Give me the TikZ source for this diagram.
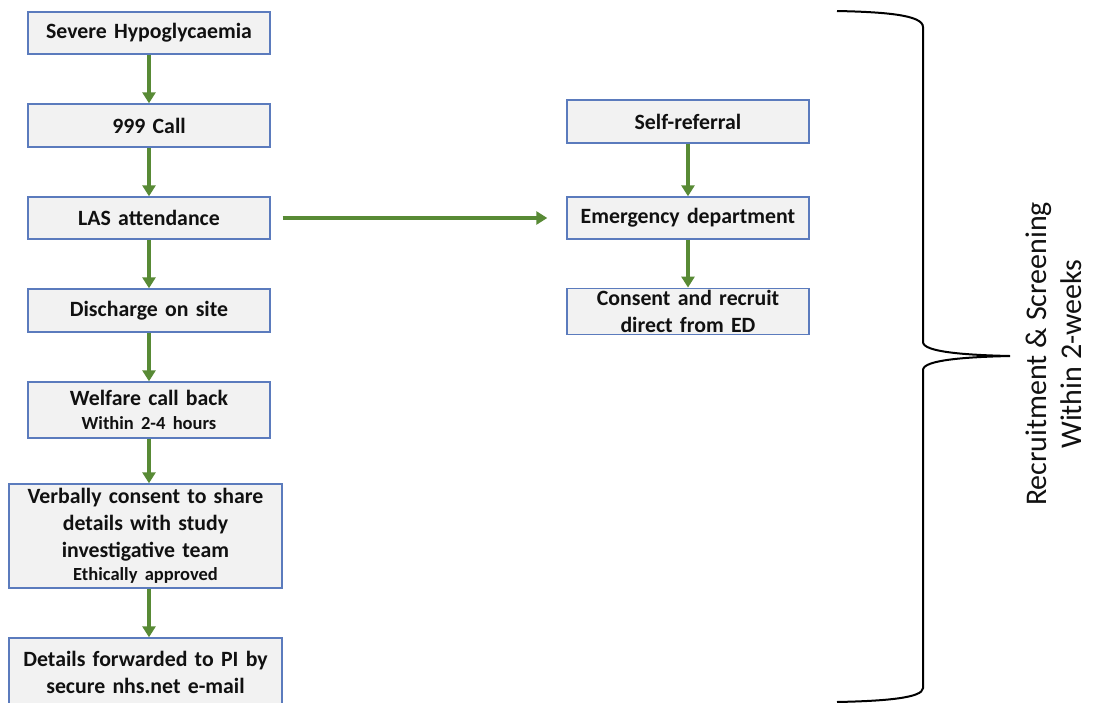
\documentclass[tikz,border=0pt]{standalone}
\usepackage{fontspec}
\setmainfont{Carlito}
\usetikzlibrary{arrows.meta}
\definecolor{boxfill}{HTML}{F2F2F2}
\definecolor{boxline}{HTML}{5B7BBD}
\definecolor{flowgreen}{HTML}{588A35}
\definecolor{inktext}{HTML}{111111}
% smaller size for the second-line notes inside boxes
\newcommand{\notesize}{\fontsize{18.5}{22}\selectfont}
\begin{document}
\begin{tikzpicture}[x=1pt,y=-1pt,
  stepbox/.style={draw=boxline, line width=1.4pt, fill=boxfill, inner sep=2pt,
    text=inktext, align=center, font=\fontsize{21.8}{27}\selectfont\bfseries},
  colbox/.style={stepbox, minimum width=242pt, text width=236pt},
  widebox/.style={stepbox, minimum width=273pt, text width=267pt},
  flow/.style={draw=flowgreen, line width=3.2pt,
    -{Triangle[width=13pt,length=11pt]}}
]
\useasboundingbox (0,0) rectangle (1101,702);

% main pathway
\node[colbox, minimum height=42pt] (hypo) at (149,33) {Severe Hypoglycaemia};
\node[colbox, minimum height=43pt] (call) at (149,125.5) {999 Call};
\node[colbox, minimum height=42pt] (las)  at (149,218) {LAS attendance};
\node[colbox, minimum height=43pt] (disc) at (149,310.5) {Discharge on site};
\node[colbox, minimum height=56pt] (welf) at (149,410)
  {Welfare call back\\[-3pt]{\notesize Within 2-4 hours}};
\node[widebox, minimum height=104pt] (verb) at (145.5,536)
  {Verbally consent to share\\details with study\\investigative team\\[-4pt]{\notesize Ethically approved}};
\node[widebox, minimum height=68pt] (fwd) at (145.5,672)
  {Details forwarded to PI by\\secure nhs.net e-mail};

% emergency department pathway
\node[colbox, minimum height=43pt] (self) at (688,121.5) {Self-referral};
\node[colbox, minimum height=42pt] (ed)   at (688,218) {Emergency department};
\node[colbox, minimum height=45pt] (cons) at (688,311.5)
  {Consent and recruit\\direct from ED};

% connectors (the left column keeps one vertical axis)
\draw[flow] (hypo.south) -- (call.north);
\draw[flow] (call.south) -- (las.north);
\draw[flow] (las.south) -- (disc.north);
\draw[flow] (disc.south) -- (welf.north);
\draw[flow] (welf.south) -- (welf.south |- verb.north);
\draw[flow] (welf.south |- verb.south) -- (welf.south |- fwd.north);
\draw[flow] (self.south) -- (ed.north);
\draw[flow] (ed.south) -- (cons.north);
\draw[flow] ([xshift=12pt]las.east) -- ([xshift=-19pt]ed.west);

% brace spanning the recruitment window
\coordinate (bracetip) at (1010,356);
\draw[line width=2pt, black]
  (837,11) .. controls (885,12) and (923,15) .. (923,27)
  -- (923,342) .. controls (923,352) and (965,355) .. (bracetip)
  .. controls (965,357) and (923,360) .. (923,370)
  -- (923,688) .. controls (923,698) and (885,701) .. (837,702);

\node[rotate=90, align=center, text=inktext,
  font=\fontsize{30}{35}\selectfont] (window) at (1054,354)
  {Recruitment \& Screening\\Within 2-weeks};
\end{tikzpicture}
\end{document}
